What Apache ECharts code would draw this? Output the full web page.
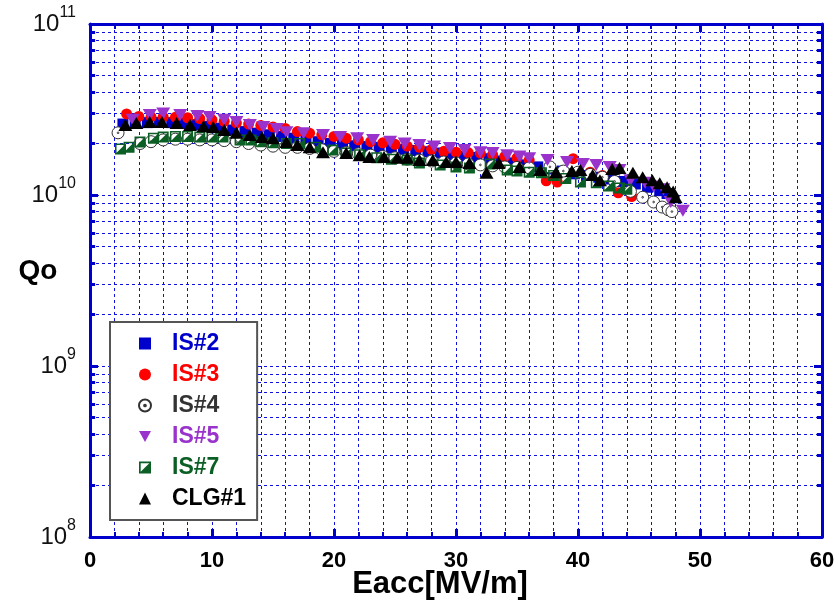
<!DOCTYPE html>
<html><head><meta charset="utf-8">
<script src="https://cdn.jsdelivr.net/npm/echarts@6/dist/echarts.min.js"></script>
<style>html,body{margin:0;padding:0;background:#fff}#c{width:839px;height:604px}</style>
</head><body><div id="c"></div>
<script>
// ---- data (Eacc in MV/m, Qo) ----
const seriesNames = ['IS#2', 'IS#3', 'IS#4', 'IS#5', 'IS#7', 'CLG#1'];

const is2E = [2.7,3.7,4.7,5.7,6.7,7.7,8.7,9.7,10.7,11.7,12.7,13.7,14.7,15.7,16.7,17.7,18.7,19.7,20.7,21.7,22.7,23.7,24.7,25.7,26.7,27.7,28.7,29.7,30.7,31.7,32.7,33.7,34.7,35.7,36.7,37.7,38.7,39.7,40.7,41.7,42.7,43.7,44.7,45.7,46.7,47.3];
const is2Q = [2.6e10,2.62e10,2.65e10,2.66e10,2.65e10,2.62e10,2.58e10,2.52e10,2.46e10,2.4e10,2.35e10,2.3e10,2.25e10,2.2e10,2.15e10,2.1e10,2.05e10,2.0e10,1.97e10,1.94e10,1.92e10,1.9e10,1.88e10,1.85e10,1.82e10,1.79e10,1.76e10,1.72e10,1.68e10,1.66e10,1.63e10,1.58e10,1.54e10,1.5e10,1.46e10,1.42e10,1.38e10,1.33e10,1.3e10,1.27e10,1.24e10,1.2e10,1.16e10,1.11e10,1.06e10,1.02e10];

const is3E = [3.0,4.0,5.0,6.0,7.0,8.0,9.0,10.0,11.0,12.0,13.0,14.0,15.0,16.0,17.0,18.0,19.0,20.0,21.0,22.0,23.0,24.0,25.0,26.0,27.0,28.0,29.0,30.0,31.0,32.0,33.0,34.0,35.0,36.0,37.4,38.3,39.6,41.0,42.0,43.3,44.4];
const is3Q = [2.98e10,2.88e10,2.86e10,2.86e10,2.85e10,2.83e10,2.8e10,2.75e10,2.7e10,2.64e10,2.6e10,2.55e10,2.5e10,2.45e10,2.35e10,2.3e10,2.25e10,2.2e10,2.15e10,2.1e10,2.05e10,2.02e10,1.98e10,1.93e10,1.9e10,1.85e10,1.8e10,1.78e10,1.77e10,1.76e10,1.72e10,1.68e10,1.65e10,1.6e10,1.21e10,1.19e10,1.63e10,1.36e10,1.3e10,1.03e10,0.98e10];

const is4E = [2.3,4.1,5.0,6.0,7.0,8.0,9.0,10.0,11.0,12.0,13.0,14.0,15.0,16.0,17.0,18.0,19.0,20.0,21.0,22.0,23.0,24.0,25.0,26.0,27.0,28.0,29.0,30.0,31.0,32.0,33.0,34.0,35.0,36.0,37.7,38.8,40.0,41.0,42.0,43.0,44.3,45.3,46.2,46.9,47.4,47.7];
const is4Q = [2.31e10,2.0e10,2.05e10,2.1e10,2.12e10,2.12e10,2.1e10,2.1e10,2.08e10,2.05e10,2.0e10,1.96e10,1.93e10,1.9e10,1.9e10,1.87e10,1.84e10,1.8e10,1.77e10,1.74e10,1.71e10,1.68e10,1.65e10,1.62e10,1.6e10,1.58e10,1.56e10,1.54e10,1.52e10,1.5e10,1.48e10,1.46e10,1.45e10,1.44e10,1.46e10,1.38e10,1.36e10,1.32e10,1.27e10,1.2e10,1.05e10,0.97e10,0.91e10,0.85e10,0.82e10,0.8e10];

const is5E = [3.5,4.9,6.0,7.4,8.8,9.8,11.0,12.0,13.1,14.2,15.3,16.1,17.5,19.1,20.5,21.9,23.2,24.6,25.8,27.0,28.2,29.5,30.7,32.0,33.0,34.2,35.2,36.0,37.5,39.1,40.4,41.5,42.6,43.4,44.3,45.5,46.2,47.0,47.6,48.6];
const is5Q = [2.75e10,2.94e10,3.0e10,2.94e10,2.9e10,2.86e10,2.75e10,2.67e10,2.57e10,2.5e10,2.43e10,2.33e10,2.3e10,2.24e10,2.18e10,2.15e10,2.1e10,2.05e10,2.0e10,1.96e10,1.92e10,1.88e10,1.83e10,1.78e10,1.76e10,1.71e10,1.68e10,1.64e10,1.6e10,1.56e10,1.52e10,1.5e10,1.46e10,1.4e10,1.22e10,1.18e10,1.12e10,1.08e10,0.91e10,0.81e10];

const is7E = [2.5,3.2,4.1,5.2,6.0,7.0,8.0,9.0,10.0,10.9,12.3,13.2,14.0,15.0,16.1,17.2,18.5,19.9,21.0,22.1,23.5,24.7,26.0,27.0,28.7,30.0,31.1,32.8,34.2,35.0,36.0,37.0,38.0,39.0,40.2,41.5,42.5,43.4,44.0];
const is7Q = [1.86e10,1.9e10,2.04e10,2.15e10,2.18e10,2.2e10,2.2e10,2.18e10,2.18e10,2.18e10,2.1e10,2.1e10,2.05e10,2.02e10,2.0e10,2.0e10,1.9e10,1.83e10,1.76e10,1.72e10,1.65e10,1.62e10,1.6e10,1.54e10,1.5e10,1.46e10,1.44e10,1.52e10,1.4e10,1.38e10,1.36e10,1.35e10,1.3e10,1.25e10,1.19e10,1.18e10,1.13e10,1.1e10,1.08e10];

const clgE = [2.9,3.8,4.9,5.9,7.1,8.2,9.3,10.1,11.0,12.0,13.1,14.1,15.0,16.1,17.0,18.0,19.1,21.0,22.1,22.9,24.1,25.2,26.0,27.0,28.1,29.2,30.0,31.1,32.5,33.5,35.2,36.9,38.2,39.5,40.2,41.2,41.8,42.8,43.4,44.5,45.3,46.1,46.7,47.3,47.8,48.0];
const clgQ = [2.57e10,2.64e10,2.67e10,2.67e10,2.64e10,2.57e10,2.52e10,2.5e10,2.4e10,2.31e10,2.24e10,2.18e10,2.15e10,2.04e10,1.96e10,1.9e10,1.78e10,1.76e10,1.71e10,1.67e10,1.67e10,1.65e10,1.65e10,1.6e10,1.6e10,1.56e10,1.56e10,1.54e10,1.35e10,1.54e10,1.46e10,1.4e10,1.36e10,1.38e10,1.4e10,1.31e10,1.22e10,1.42e10,1.44e10,1.35e10,1.27e10,1.22e10,1.17e10,1.11e10,1.05e10,0.97e10];

// ---- axis ticks ----
const xTickValues = [0, 10, 20, 30, 40, 50, 60];
const yDecades = [1e8, 1e9, 1e10, 1e11];
const yMinorMultipliers = [2, 3, 4, 5, 6, 7, 8, 9];

// ---- styles ----
const AXIS_BLUE = '#0000cc';
const GRID_BLUE = '#0f0fe0';
const FONT = '"Liberation Sans", Arial, Helvetica, sans-serif';
const markerColors = ['#0000cc', '#ff0000', '#ffffff', '#9933cc', '#0b5e24', '#000000'];
const textColors = ['#0000cc', '#ff0000', '#333333', '#9933cc', '#0b5e24', '#000000'];
const symbols = [
  'rect',
  'circle',
  'path://M0,5 A5,5 0 1,1 10,5 A5,5 0 1,1 0,5 Z M4.3,5 A0.7,0.7 0 1,1 5.7,5 A0.7,0.7 0 1,1 4.3,5 Z',
  'path://M0,0 L12,0 L6,11 Z',
  'path://M0,0 L10,0 L10,10 L0,10 Z M1.4,1.4 L1.4,8.6 L8.6,8.6 L8.6,1.4 Z M8.6,1.4 L8.6,8.6 L1.4,8.6 Z',
  'triangle'
];
const symbolSizes = [11, 11, 12, [14, 12], 11, [14, 12]];
const legendIconSizes = [10, 11, 12, 12, 11, 12];

const dataE = [is2E, is3E, is4E, is5E, is7E, clgE];
const dataQ = [is2Q, is3Q, is4Q, is5Q, is7Q, clgQ];

const minorVals = [];
yDecades.slice(0, 3).forEach(d => yMinorMultipliers.forEach(m => minorVals.push(d * m)));

const gridLineStyle = { color: GRID_BLUE, type: [3, 3], width: 1 };
const tickLen = 0.42; // in MV/m units along x (≈5px)
const markData = [];
minorVals.forEach(v => {
  markData.push({ yAxis: v, lineStyle: gridLineStyle });
  markData.push([{ coord: [0, v], lineStyle: { color: AXIS_BLUE, width: 3, type: 'solid' } }, { coord: [tickLen, v] }]);
  markData.push([{ coord: [60 - tickLen, v], lineStyle: { color: AXIS_BLUE, width: 3, type: 'solid' } }, { coord: [60, v] }]);
});

const scatterSeries = seriesNames.map((name, i) => ({
  name,
  type: 'scatter',
  z: 2,
  symbol: symbols[i],
  symbolSize: symbolSizes[i],
  itemStyle: i === 2
    ? { color: '#ffffff', borderColor: '#333333', borderWidth: 1, opacity: 1 }
    : { color: markerColors[i], opacity: 1 },
  data: dataE[i].map((e, k) => [e, dataQ[i][k]])
}));

const helper = {
  name: 'grid-helper',
  type: 'scatter',
  data: [],
  z: 1,
  silent: true,
  markLine: {
    silent: true,
    z: 1,
    symbol: ['none', 'none'],
    animation: false,
    label: { show: false },
    emphasis: { disabled: true },
    data: markData
  }
};

const chart = echarts.init(document.getElementById('c'), null, { renderer: 'canvas' });
chart.setOption({
  animation: false,
  backgroundColor: '#ffffff',
  grid: { left: 90, right: 17, top: 24, bottom: 67, containLabel: false },
  xAxis: [
    {
      type: 'value', min: xTickValues[0], max: xTickValues[xTickValues.length - 1], interval: 10,
      position: 'bottom',
      axisLine: { show: true, onZero: false, lineStyle: { color: AXIS_BLUE, width: 3 } },
      axisTick: { show: true, inside: true, length: 8, lineStyle: { color: AXIS_BLUE, width: 3 } },
      minorTick: { show: true, splitNumber: 5, length: 5, lineStyle: { color: AXIS_BLUE, width: 2 } },
      splitLine: { show: true, lineStyle: gridLineStyle },
      minorSplitLine: { show: true, lineStyle: gridLineStyle },
      axisLabel: { margin: 13, fontSize: 22, fontWeight: 'bold', color: '#000', fontFamily: FONT }
    },
    {
      type: 'value', min: 0, max: 60, interval: 10, position: 'top',
      axisLine: { show: true, onZero: false, lineStyle: { color: AXIS_BLUE, width: 3 } },
      axisTick: { show: true, inside: true, length: 8, lineStyle: { color: AXIS_BLUE, width: 3 } },
      minorTick: { show: true, splitNumber: 5, length: 5, lineStyle: { color: AXIS_BLUE, width: 2 } },
      splitLine: { show: false }, axisLabel: { show: false }
    }
  ],
  yAxis: [
    {
      type: 'log', logBase: 10, min: yDecades[0], max: yDecades[yDecades.length - 1],
      position: 'left',
      axisLine: { show: true, onZero: false, lineStyle: { color: AXIS_BLUE, width: 3 } },
      axisTick: { show: true, inside: true, length: 8, lineStyle: { color: AXIS_BLUE, width: 3 } },
      splitLine: { show: true, lineStyle: gridLineStyle },
      axisLabel: {
        margin: 14,
        formatter: v => '{b|10}{s|' + Math.round(Math.log10(v)) + '}',
        rich: {
          b: { fontSize: 24, lineHeight: 38, color: '#111', fontFamily: FONT },
          s: { fontSize: 16, lineHeight: 16, color: '#111', fontFamily: FONT, verticalAlign: 'top' }
        }
      }
    },
    {
      type: 'log', logBase: 10, min: 1e8, max: 1e11, position: 'right',
      axisLine: { show: true, onZero: false, lineStyle: { color: AXIS_BLUE, width: 3 } },
      axisTick: { show: true, inside: true, length: 8, lineStyle: { color: AXIS_BLUE, width: 3 } },
      splitLine: { show: false }, axisLabel: { show: false }
    }
  ],
  legend: {
    orient: 'vertical', left: 110, top: 322,
    padding: [10, 11, 10, 28], itemGap: 8, itemWidth: 12, itemHeight: 12,
    backgroundColor: '#ffffff', borderColor: '#555555', borderWidth: 2,
    selectedMode: false,
    textStyle: { fontSize: 23, fontWeight: 'bold', fontFamily: FONT, padding: [0, 0, 0, 16] },
    data: seriesNames.map((n, i) => ({ name: n, textStyle: { color: textColors[i] } }))
  },
  graphic: [
    { type: 'text', x: 38, y: 271, style: { text: 'Qo', font: 'bold 28px ' + FONT, fill: '#000', textAlign: 'center', textVerticalAlign: 'middle' } },
    { type: 'text', x: 440, y: 584, style: { text: 'Eacc[MV/m]', font: 'bold 31px ' + FONT, fill: '#000', textAlign: 'center', textVerticalAlign: 'middle' } }
  ],
  series: [helper].concat(scatterSeries)
});
</script>
</body></html>
